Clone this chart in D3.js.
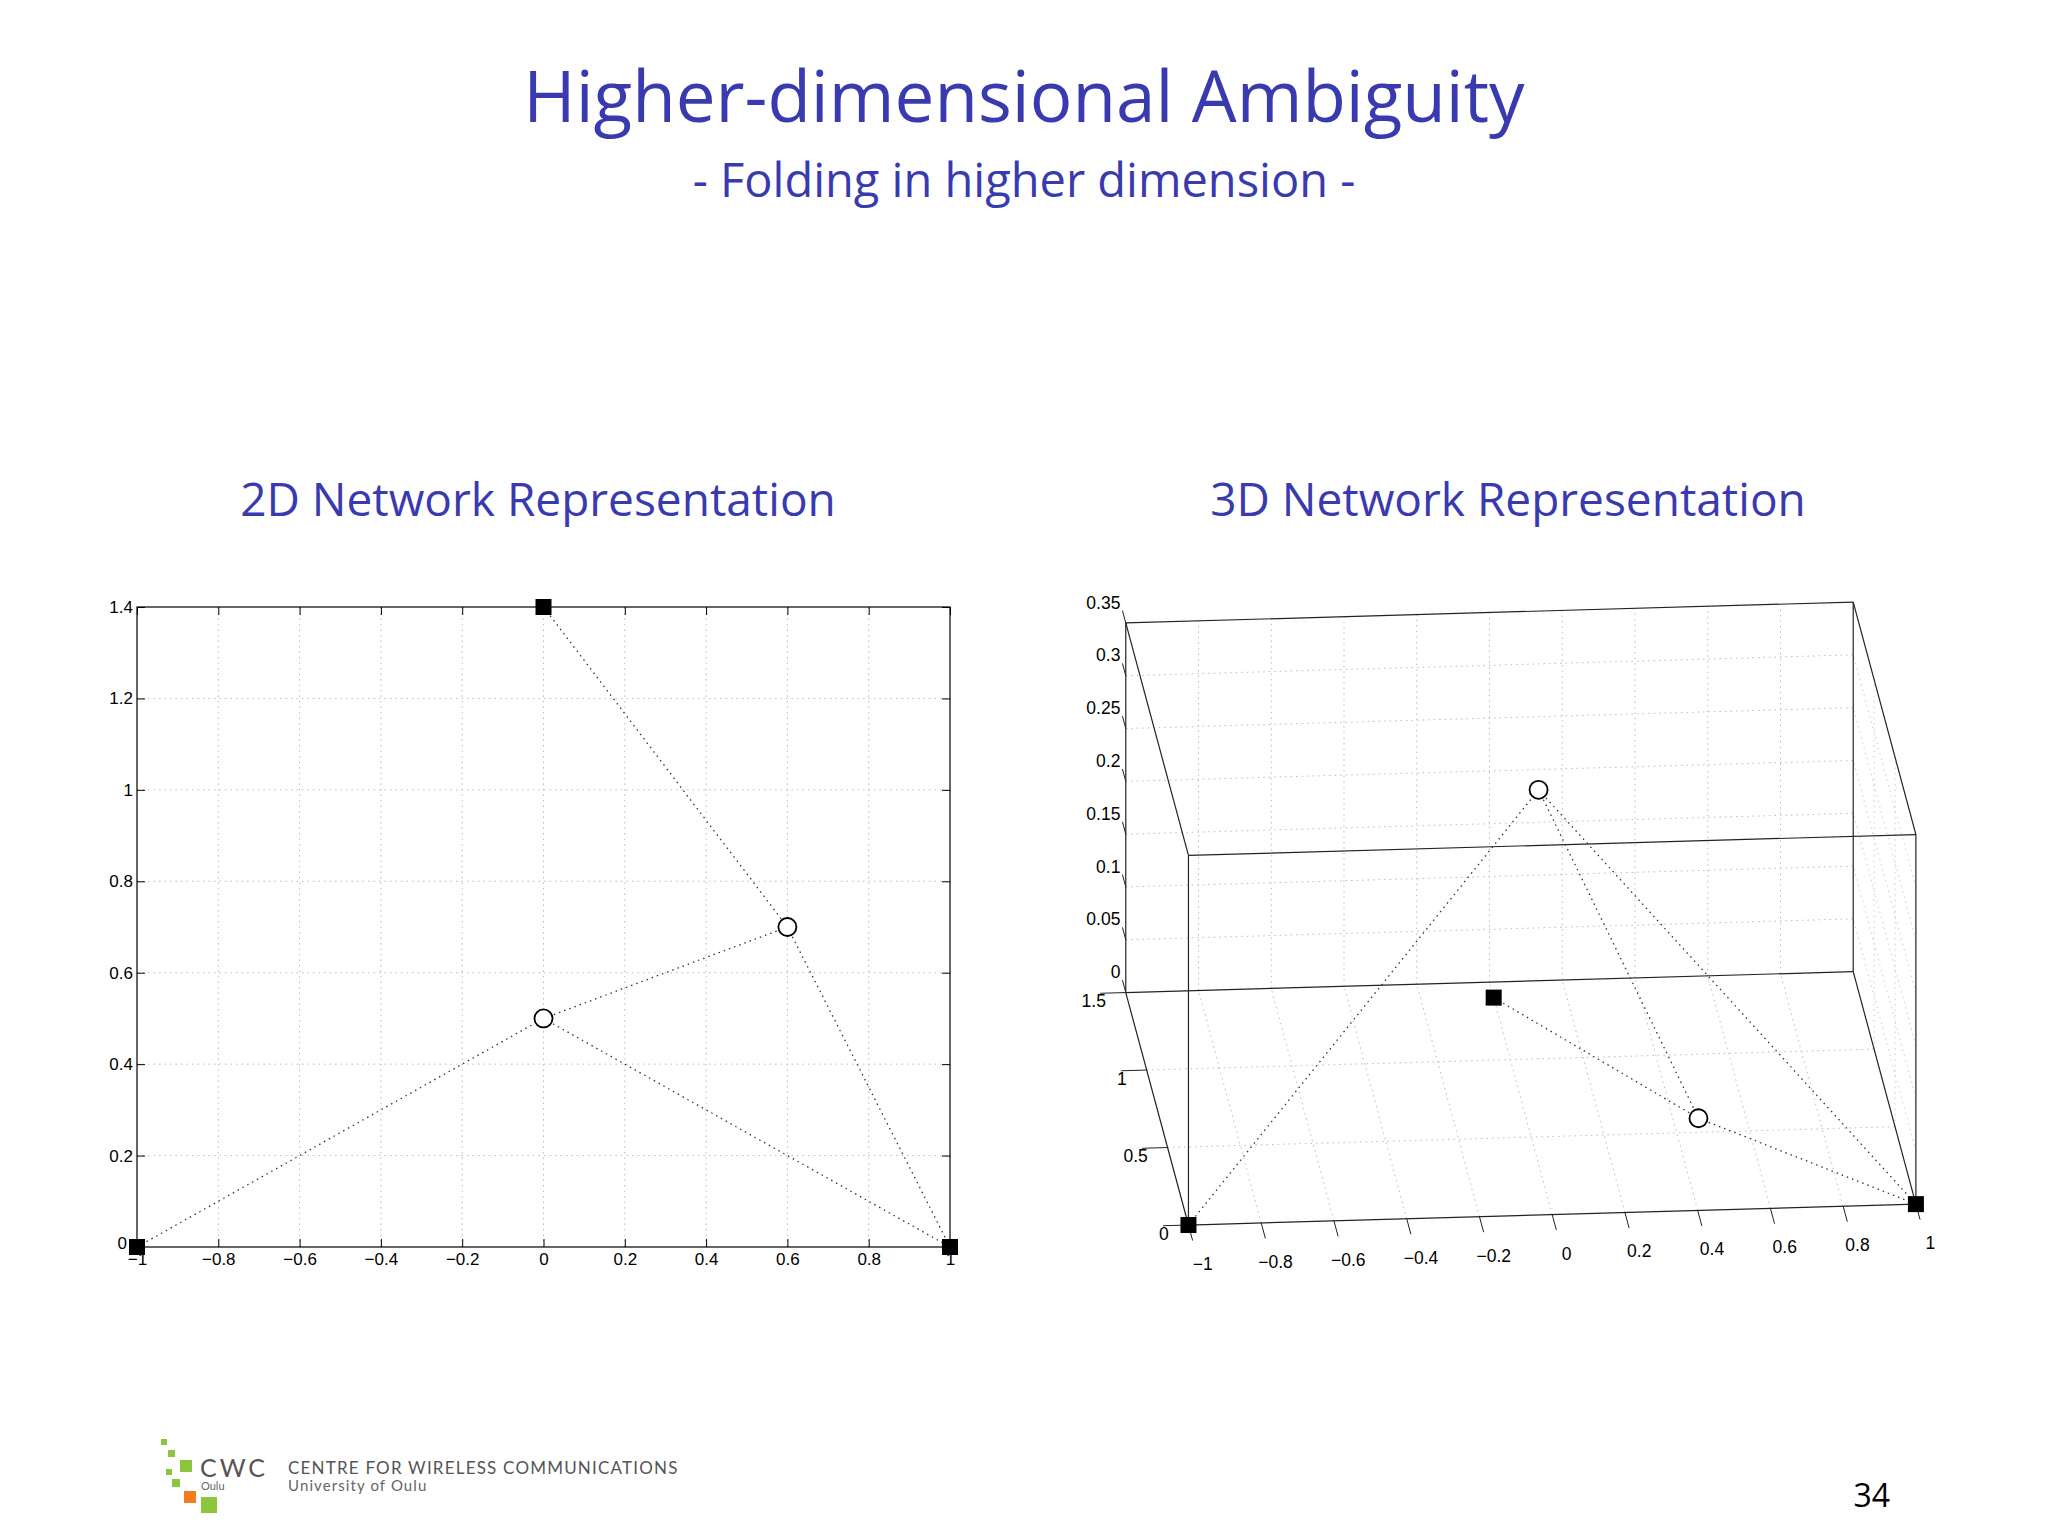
<!DOCTYPE html>
<html><head><meta charset="utf-8">
<script src="https://cdn.jsdelivr.net/npm/d3@7"></script>
<style>body{margin:0;background:#fff}svg{display:block}</style>
</head><body>
<svg id="slide" width="2048" height="1536"></svg>
<script>
// 2D network
const xTicks2d = [-1, -0.8, -0.6, -0.4, -0.2, 0, 0.2, 0.4, 0.6, 0.8, 1]
const yTicks2d = [0, 0.2, 0.4, 0.6, 0.8, 1, 1.2, 1.4]
const anchors2d = [[-1, 0], [1, 0], [0, 1.4]]
const nodes2d = [[0, 0.5], [0.6, 0.7]]
const links2d = [[[-1, 0], [0, 0.5]], [[0, 0.5], [0.6, 0.7]], [[0, 0.5], [1, 0]], [[0, 1.4], [0.6, 0.7]], [[0.6, 0.7], [1, 0]]]
// 3D network
const xTicks3d = [-1, -0.8, -0.6, -0.4, -0.2, 0, 0.2, 0.4, 0.6, 0.8, 1]
const yTicks3d = [0, 0.5, 1, 1.5]
const zTicks3d = [0, 0.05, 0.1, 0.15, 0.2, 0.25, 0.3, 0.35]
const anchors3d = [[-1, 0, 0], [1, 0, 0], [0, 1.4, 0]]
const nodes3d = [[0.12, 1.37, 0.2], [0.47, 0.59, 0]]
const links3d = [[[-1, 0, 0], [0.12, 1.37, 0.2]], [[0.12, 1.37, 0.2], [0.47, 0.59, 0]], [[0.12, 1.37, 0.2], [1, 0, 0]], [[0, 1.4, 0], [0.47, 0.59, 0]], [[0.47, 0.59, 0], [1, 0, 0]]]

const svg = d3.select('#slide')
const blue = '#3a3ab0'
const fmt = d => d < 0 ? '\u2212' + Math.abs(d) : String(d)
const tickFont = 'Liberation Sans, Arial, sans-serif'

svg.append('text').attr('x', 1024).attr('y', 122).attr('text-anchor', 'middle')
    .attr('font-family', 'Open Sans').attr('font-size', 71).attr('fill', blue).text('Higher-dimensional Ambiguity')
svg.append('text').attr('x', 1024).attr('y', 197).attr('text-anchor', 'middle')
    .attr('font-family', 'Open Sans').attr('font-size', 47).attr('fill', blue).text('- Folding in higher dimension -')
svg.append('text').attr('x', 538).attr('y', 516).attr('text-anchor', 'middle')
    .attr('font-family', 'Open Sans').attr('font-size', 46).attr('fill', blue).text('2D Network Representation')
svg.append('text').attr('x', 1508).attr('y', 516).attr('text-anchor', 'middle')
    .attr('font-family', 'Open Sans').attr('font-size', 46).attr('fill', blue).text('3D Network Representation')

// ---- 2D plot
const x2 = d3.scaleLinear().domain([-1, 1]).range([137, 950])
const y2 = d3.scaleLinear().domain([0, 1.4]).range([1247, 607])
const g2 = svg.append('g')
g2.selectAll('.gx').data(xTicks2d.slice(1, -1)).enter().append('line')
    .attr('x1', d => x2(d)).attr('x2', d => x2(d)).attr('y1', y2(0)).attr('y2', y2(1.4))
    .attr('stroke', '#bbb').attr('stroke-dasharray', '1.5,4')
g2.selectAll('.gy').data(yTicks2d.slice(1, -1)).enter().append('line')
    .attr('y1', d => y2(d)).attr('y2', d => y2(d)).attr('x1', x2(-1)).attr('x2', x2(1))
    .attr('stroke', '#bbb').attr('stroke-dasharray', '1.5,4')
g2.append('rect').attr('x', x2(-1)).attr('y', y2(1.4)).attr('width', x2(1) - x2(-1)).attr('height', y2(0) - y2(1.4))
    .attr('fill', 'none').attr('stroke', '#000').attr('stroke-width', 1.2)
const ax2 = g2.append('g').attr('transform', `translate(0,${y2(0)})`)
    .call(d3.axisBottom(x2).tickValues(xTicks2d).tickSize(-8).tickPadding(6).tickFormat(fmt))
const ay2 = g2.append('g').attr('transform', `translate(${x2(-1)},0)`)
    .call(d3.axisLeft(y2).tickValues(yTicks2d).tickSize(-8).tickPadding(4).tickFormat(fmt))
const ax2t = g2.append('g').attr('transform', `translate(0,${y2(1.4)})`)
    .call(d3.axisTop(x2).tickValues(xTicks2d).tickSize(-8).tickFormat(''))
const ay2r = g2.append('g').attr('transform', `translate(${x2(1)},0)`)
    .call(d3.axisRight(y2).tickValues(yTicks2d).tickSize(-8).tickFormat(''))
;[ax2, ay2, ax2t, ay2r].forEach(a => {
    a.select('.domain').remove()
    a.selectAll('text').attr('font-family', tickFont).attr('font-size', 17).attr('fill', '#000')
})
// keep the y "0" clear of the x "-1" below it
ay2.selectAll('text').filter(d => d === 0).attr('dy', '0.1em').attr('x', -10)
g2.selectAll('.l').data(links2d).enter().append('line')
    .attr('x1', d => x2(d[0][0])).attr('y1', d => y2(d[0][1])).attr('x2', d => x2(d[1][0])).attr('y2', d => y2(d[1][1]))
    .attr('stroke', '#333').attr('stroke-dasharray', '1.5,4').attr('stroke-width', 1.3)
g2.selectAll('.a').data(anchors2d).enter().append('rect')
    .attr('x', d => x2(d[0]) - 8).attr('y', d => y2(d[1]) - 8).attr('width', 16).attr('height', 16).attr('fill', '#000')
g2.selectAll('.n').data(nodes2d).enter().append('circle')
    .attr('cx', d => x2(d[0])).attr('cy', d => y2(d[1])).attr('r', 9).attr('fill', '#fff').attr('stroke', '#000').attr('stroke-width', 1.8)

// ---- 3D plot, orthographic projection built from linear scales
const k = 1.306
const px = d3.scaleLinear().domain([-1, 1]).range([0, 557 * k])
const py = d3.scaleLinear().domain([0, 1.5]).range([0, 1])
const pz = d3.scaleLinear().domain([0, 0.35]).range([0, -283 * k])
const O = [910 * k, 938 * k]
function P(x, y, z) {
    const t = px(x), s = py(y)
    return [O[0] + t - s * 48 * k, O[1] - t * 16 / 557 - s * 178 * k + pz(z)]
}
const g3 = svg.append('g')
const seg = (a, b, stroke, dash, w) => {
    const p = P(...a), q = P(...b)
    g3.append('line').attr('x1', p[0]).attr('y1', p[1]).attr('x2', q[0]).attr('y2', q[1])
        .attr('stroke', stroke).attr('stroke-dasharray', dash).attr('stroke-width', w || 1)
}
const gc = '#bbb', gd = '1.5,4'
// floor grid
xTicks3d.slice(1, -1).forEach(x => seg([x, 0, 0], [x, 1.5, 0], gc, gd))
yTicks3d.slice(1, -1).forEach(y => seg([-1, y, 0], [1, y, 0], gc, gd))
// back wall grid
xTicks3d.slice(1, -1).forEach(x => seg([x, 1.5, 0], [x, 1.5, 0.35], gc, gd))
zTicks3d.slice(1, -1).forEach(z => seg([-1, 1.5, z], [1, 1.5, z], gc, gd))
// side wall grid (x = 1)
zTicks3d.slice(1, -1).forEach(z => seg([1, 0, z], [1, 1.5, z], '#c8c8e0', gd))
yTicks3d.slice(1, -1).forEach(y => seg([1, y, 0], [1, y, 0.35], '#c8c8e0', gd))
// box edges
const C = [[-1, 0], [1, 0], [1, 1.5], [-1, 1.5]]
C.forEach((c, i) => {
    const d = C[(i + 1) % 4]
    seg([c[0], c[1], 0], [d[0], d[1], 0], '#222', null, 1.2)
    seg([c[0], c[1], 0.35], [d[0], d[1], 0.35], '#222', null, 1.2)
    seg([c[0], c[1], 0], [c[0], c[1], 0.35], '#222', null, 1.2)
})
// ticks and labels
const lab = (p, t, anchor) => g3.append('text').attr('x', p[0]).attr('y', p[1]).attr('text-anchor', anchor)
    .attr('font-family', tickFont).attr('font-size', 17.5).text(t)
xTicks3d.forEach(x => {
    const p = P(x, 0, 0), q = P(x, -0.1, 0)
    g3.append('line').attr('x1', p[0]).attr('y1', p[1]).attr('x2', q[0]).attr('y2', q[1]).attr('stroke', '#222')
    const r = P(x, -0.2, 0); lab([r[0] + 6, r[1] + 14], fmt(x), 'middle')
})
yTicks3d.forEach(y => {
    const p = P(-1, y, 0), q = P(-1.07, y, 0)
    g3.append('line').attr('x1', p[0]).attr('y1', p[1]).attr('x2', q[0]).attr('y2', q[1]).attr('stroke', '#222')
    const r = P(-1.06, y, 0); lab([r[0] + 2, r[1] + 14], fmt(y), 'end')
})
zTicks3d.forEach(z => {
    const p = P(-1, 1.5, z), q = P(-1, 1.58, z)
    g3.append('line').attr('x1', p[0]).attr('y1', p[1]).attr('x2', q[0]).attr('y2', q[1]).attr('stroke', '#222')
    const r = P(-1, 1.58, z); lab([r[0] - 2, r[1] - 2], fmt(z), 'end')
})
links3d.forEach(l => seg(l[0], l[1], '#333', '1.5,4', 1.3))
anchors3d.forEach(a => {
    const p = P(...a)
    g3.append('rect').attr('x', p[0] - 8).attr('y', p[1] - 8).attr('width', 16).attr('height', 16).attr('fill', '#000')
})
nodes3d.forEach(n => {
    const p = P(...n)
    g3.append('circle').attr('cx', p[0]).attr('cy', p[1]).attr('r', 9).attr('fill', '#fff').attr('stroke', '#000').attr('stroke-width', 1.8)
})

// ---- footer logo
const logoSquares = [[161, 1439, 6, '#8cc63f'], [168, 1450, 7, '#8cc63f'], [180, 1460, 12, '#8cc63f'], [166, 1469, 6, '#8cc63f'],
    [172, 1479, 8, '#8cc63f'], [184, 1491, 12, '#f47b20'], [201, 1497, 16, '#8cc63f']]
svg.selectAll('.logo').data(logoSquares).enter().append('rect')
    .attr('x', d => d[0]).attr('y', d => d[1]).attr('width', d => d[2]).attr('height', d => d[2]).attr('fill', d => d[3])
svg.append('text').attr('x', 200).attr('y', 1477).attr('font-family', 'Lato').attr('font-size', 25).attr('fill', '#555')
    .attr('letter-spacing', 3).text('CWC')
svg.append('text').attr('x', 201).attr('y', 1490).attr('font-family', 'Lato').attr('font-size', 11).attr('fill', '#666').text('Oulu')
svg.append('text').attr('x', 288).attr('y', 1474).attr('font-family', 'Lato').attr('font-size', 17).attr('fill', '#555')
    .attr('letter-spacing', 1.2).text('CENTRE FOR WIRELESS COMMUNICATIONS')
svg.append('text').attr('x', 288).attr('y', 1491).attr('font-family', 'Lato').attr('font-size', 15).attr('fill', '#666')
    .attr('letter-spacing', 1.1).text('University of Oulu')
svg.append('text').attr('x', 1890).attr('y', 1507).attr('text-anchor', 'end').attr('font-family', 'Open Sans')
    .attr('font-size', 32).attr('fill', '#000').text('34')
</script>
</body></html>
